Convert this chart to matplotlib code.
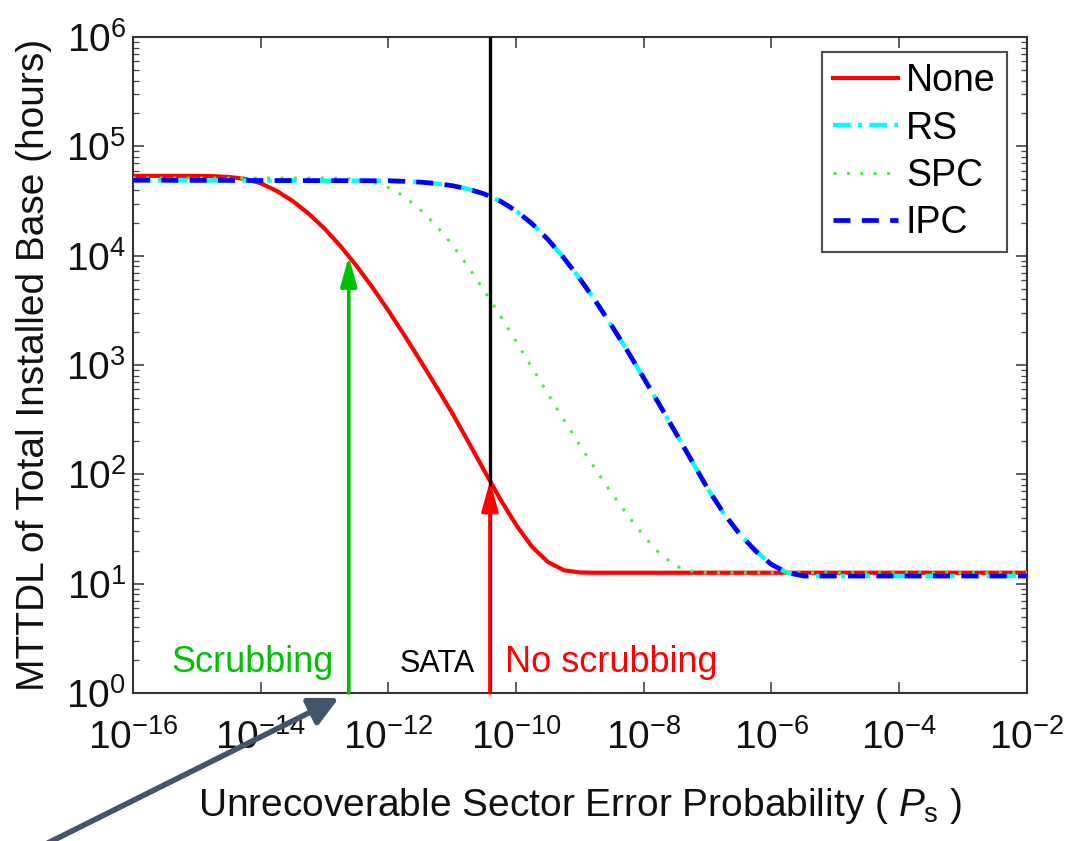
import numpy as np
import matplotlib
matplotlib.use("Agg")
import matplotlib.pyplot as plt
from matplotlib.ticker import LogLocator, NullLocator, NullFormatter
from matplotlib.transforms import offset_copy

plt.rcParams['font.family'] = ['Liberation Sans', 'DejaVu Sans']
plt.rcParams['mathtext.fontset'] = 'custom'
plt.rcParams['mathtext.rm'] = 'Liberation Sans'
plt.rcParams['mathtext.it'] = 'Liberation Sans:italic'
plt.rcParams['mathtext.bf'] = 'Liberation Sans:bold'

# log10 of the unrecoverable sector error probability and log10 of MTTDL (hours)
none_lx = [-16, -15, -14.75, -14.5, -14.25, -14, -13.75, -13.5, -13.25, -13, -12.75,
           -12.5, -12.25, -12, -11.75, -11.5, -11.25, -11, -10.75, -10.5, -10.25, -10,
           -9.75, -9.5, -9.25, -9, -8.75, -2]
none_ly = [4.73, 4.73, 4.7275, 4.72, 4.7025, 4.6625, 4.5925, 4.50, 4.385, 4.2475, 4.0875,
           3.9075, 3.71, 3.4975, 3.2725, 3.04, 2.8025, 2.56, 2.30, 2.035, 1.775, 1.5375,
           1.3375, 1.1975, 1.1225, 1.1025, 1.10, 1.10]

rs_lx = [-16, -12, -11.75, -11.5, -11.25, -11, -10.75, -10.5, -10.25, -10, -9.75, -9.5,
         -9.25, -9, -8.75, -8.5, -8.25, -8, -7.75, -7.5, -7.25, -7, -6.75, -6.5, -6.25,
         -6, -5.75, -5.5, -2]
rs_ly = [4.69, 4.685, 4.68, 4.6725, 4.66, 4.64, 4.61, 4.565, 4.50, 4.41, 4.2925, 4.1475,
         3.9775, 3.7875, 3.58, 3.3575, 3.1225, 2.88, 2.6325, 2.38, 2.125, 1.87, 1.645,
         1.455, 1.30, 1.175, 1.10, 1.07, 1.07]

spc_lx = [-16, -13, -12.75, -12.5, -12.25, -12, -11.75, -11.5, -11.25, -11, -10.75,
          -10.5, -10.25, -10, -9.75, -9.5, -9.25, -9, -8.75, -8.5, -8.25, -8, -7.75,
          -7.5, -7.25, -7, -2]
spc_ly = [4.71, 4.71, 4.7075, 4.6975, 4.6725, 4.6225, 4.5425, 4.42, 4.275, 4.10, 3.90,
          3.6825, 3.4525, 3.215, 2.975, 2.735, 2.4975, 2.265, 2.04, 1.825, 1.625, 1.435,
          1.275, 1.16, 1.115, 1.10, 1.10]

ipc_lx = [-16, -12, -11.75, -11.5, -11.25, -11, -10.75, -10.5, -10.25, -10, -9.75, -9.5,
          -9.25, -9, -8.75, -8.5, -8.25, -8, -7.75, -7.5, -7.25, -7, -6.75, -6.5, -6.25,
          -6, -5.75, -5.5, -2]
ipc_ly = [4.69, 4.685, 4.68, 4.6725, 4.66, 4.64, 4.61, 4.565, 4.50, 4.41, 4.2925, 4.1475,
          3.9775, 3.7875, 3.58, 3.3575, 3.1225, 2.88, 2.6325, 2.38, 2.125, 1.87, 1.645,
          1.455, 1.30, 1.175, 1.10, 1.07, 1.07]

series_labels = ['None', 'RS', 'SPC', 'IPC']

# sector error probabilities marked on the plot
sata_ps = 3.9e-11
scrub_ps = 2.4e-13

x_ticks = [1e-16, 1e-14, 1e-12, 1e-10, 1e-8, 1e-6, 1e-4, 1e-2]


def pts(lx, ly):
    return 10.0 ** np.asarray(lx, float), 10.0 ** np.asarray(ly, float)


def mttdl_none_at(p):
    # value of the "None" curve (piecewise-linear in log-log) at probability p
    return 10.0 ** np.interp(np.log10(p), none_lx, none_ly)


fig = plt.figure(figsize=(10.68, 8.41), dpi=100)
ax = fig.add_axes([0.1245, 0.176, 0.837, 0.780])
ax.set_xscale('log')
ax.set_yscale('log')

x, y = pts(none_lx, none_ly)
ax.plot(x, y, color='#ff0000', lw=3.0, label=series_labels[0], zorder=3)
x, y = pts(rs_lx, rs_ly)
ax.plot(x, y, color='#00ffff', lw=3.2, ls=(0, (4, 1.6, 1, 1.6)), label=series_labels[1],
        zorder=3)
x, y = pts(spc_lx, spc_ly)
ax.plot(x, y, color='#40ee40', lw=2.1, ls=(0, (1, 3.6)), label=series_labels[2], zorder=3)
x, y = pts(ipc_lx, ipc_ly)
ax.plot(x, y, color='#0000ff', lw=3.4, ls=(0, (3.6, 2.4)), label=series_labels[3],
        zorder=3)

# SATA reference line
ax.axvline(sata_ps, color='black', lw=2.4, zorder=4)

# arrows up to the unprotected curve
arrow_style = '-|>,head_length=0.9,head_width=0.25'
ax.annotate('', xy=(scrub_ps, mttdl_none_at(scrub_ps)), xytext=(scrub_ps, 1.0),
            arrowprops=dict(arrowstyle=arrow_style, color='#00c000', lw=2.6,
                            shrinkA=0, shrinkB=0, mutation_scale=20), zorder=5)
ax.annotate('', xy=(sata_ps, mttdl_none_at(sata_ps)), xytext=(sata_ps, 1.0),
            arrowprops=dict(arrowstyle=arrow_style, color='#ff0000', lw=2.6,
                            shrinkA=0, shrinkB=0, mutation_scale=20), zorder=5)

text_y = 1.55
ax.text(scrub_ps, text_y, 'Scrubbing', color='#00c000', fontsize=26, ha='right',
        va='baseline', transform=offset_copy(ax.transData, fig, x=-15, y=0, units='dots'))
ax.text(sata_ps, text_y, 'SATA', color='black', fontsize=22, ha='right',
        va='baseline', transform=offset_copy(ax.transData, fig, x=-15, y=0, units='dots'))
ax.text(sata_ps, text_y, 'No scrubbing', color='#ff0000', fontsize=26, ha='left',
        va='baseline', transform=offset_copy(ax.transData, fig, x=15, y=0, units='dots'))

# pointer arrow coming in from the lower-left corner
ax.annotate('', xy=(scrub_ps, 1.0), xycoords='data',
            xytext=(0.036, -0.008), textcoords='figure fraction',
            arrowprops=dict(arrowstyle='-|>,head_length=0.8,head_width=0.4',
                            color='#44546a', lw=4.0, shrinkA=0, shrinkB=8,
                            mutation_scale=22),
            annotation_clip=False, zorder=6)

ax.set_xlim(1e-16, 1e-2)
ax.set_ylim(1, 1e6)
ax.set_xticks(x_ticks)
ax.xaxis.set_minor_locator(NullLocator())
ax.yaxis.set_major_locator(LogLocator(base=10, numticks=10))
ax.yaxis.set_minor_locator(LogLocator(base=10, subs=np.arange(2, 10), numticks=20))
ax.yaxis.set_minor_formatter(NullFormatter())

ax.tick_params(which='both', direction='in', top=True, right=True,
               color='#444444', labelcolor='#111111')
ax.tick_params(which='major', length=8, width=1.2, labelsize=28)
ax.tick_params(which='minor', length=4, width=0.9)
ax.tick_params(axis='x', which='major', pad=19)
ax.tick_params(axis='y', which='major', pad=5)
for s in ax.spines.values():
    s.set_linewidth(1.5)
    s.set_color('#333333')

ax.set_ylabel('MTTDL of Total Installed Base (hours)', fontsize=28, color='#111111')
ax.yaxis.set_label_coords(-0.0906, 0.5)
ax.set_xlabel('Unrecoverable Sector Error Probability ( $P_{\\mathrm{s}}$ )', fontsize=28,
              color='#111111')
ax.xaxis.set_label_coords(0.5, -0.142)

leg = ax.legend(loc='upper right', bbox_to_anchor=(0.9776, 0.9771), borderaxespad=0,
                fontsize=27, frameon=True, fancybox=False, edgecolor='#222222',
                handlelength=1.75, handletextpad=0.2, labelspacing=0.3,
                borderpad=0.3)
leg.get_frame().set_linewidth(1.5)

fig.savefig('out.png', dpi=100)
